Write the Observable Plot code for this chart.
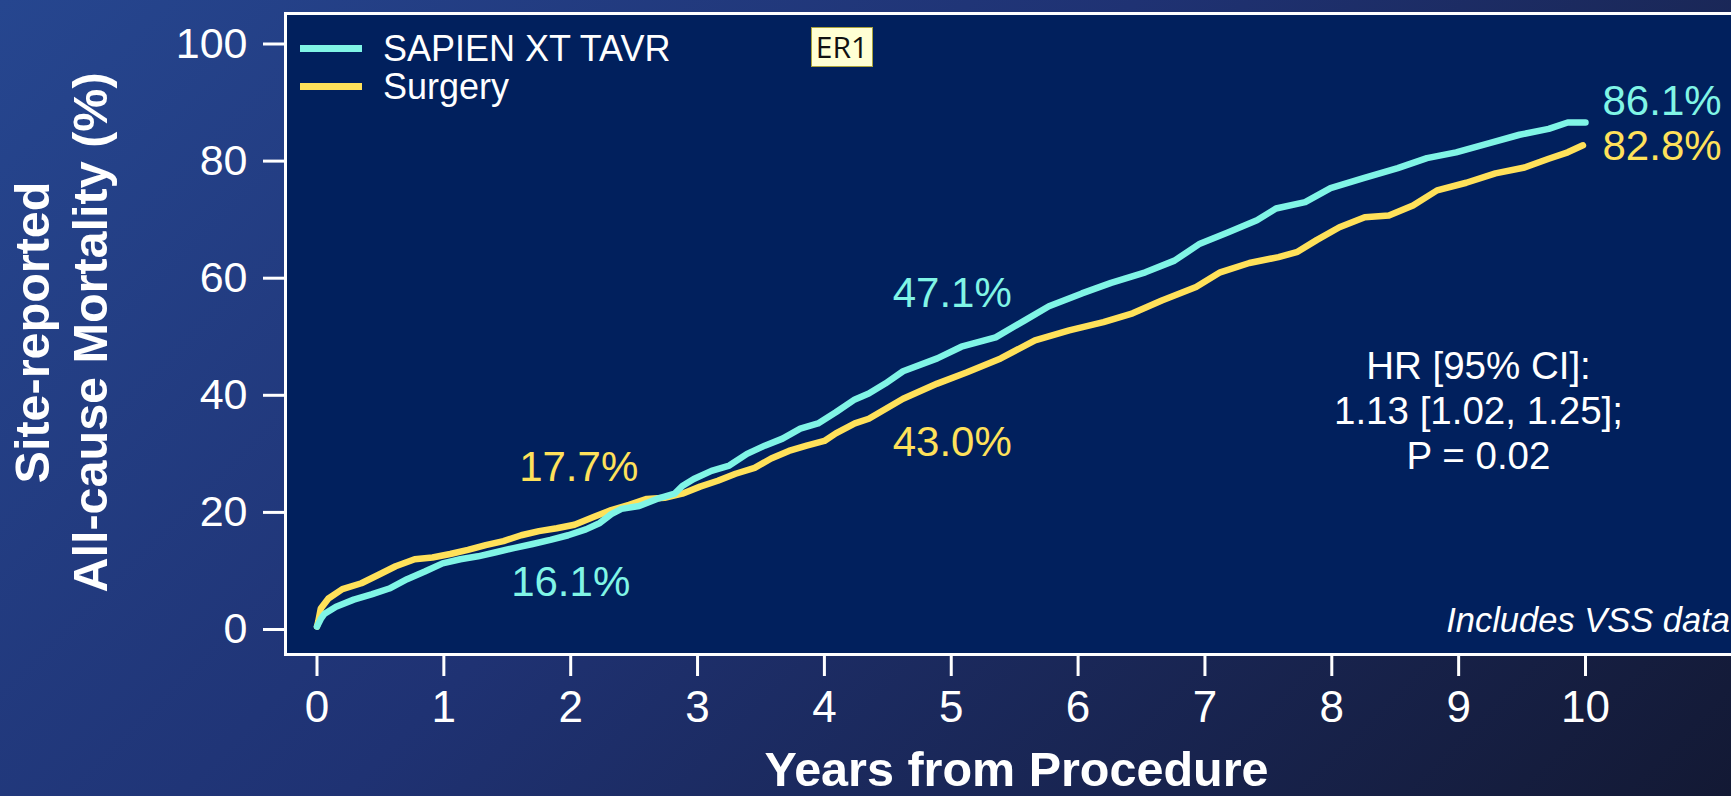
<!DOCTYPE html>
<html>
<head>
<meta charset="utf-8">
<script src="https://cdn.jsdelivr.net/npm/d3@7"></script>
<script src="https://cdn.jsdelivr.net/npm/@observablehq/plot@0.6"></script>
<style>
  html, body { margin: 0; padding: 0; overflow: hidden; }
  body {
    width: 1731px; height: 796px;
    background: linear-gradient(135deg, #26468f 0%, #1f3273 45%, #131934 100%);
    font-family: "Liberation Sans", Arial, sans-serif;
  }
  #wrap { position: relative; width: 1731px; height: 796px; }
  #wrap svg { position: absolute; left: 0; top: 0; }
  .sw { position: absolute; left: 300px; width: 62px; height: 7px; }
  .lt { position: absolute; left: 383px; font-size: 36px; line-height: 36px; color: #fff; white-space: nowrap; }
  #er1 {
    position: absolute; left: 811px; top: 27px; width: 60px; height: 38px;
    background: #ffffd4; border: 1.5px solid #a9a23c;
    font-family: "Open Sans", "Noto Sans", sans-serif; font-size: 30px; line-height: 38px;
    color: #111; text-align: center;
  }
</style>
</head>
<body>
<div id="wrap"></div>
<script>
// ---- data ----
const seriesNames = ["SAPIEN XT TAVR", "Surgery"];
const seriesColors = ["#80F5E6", "#FFE15A"];

const tavrT = [0, 0.03, 0.06, 0.15, 0.29, 0.43, 0.57, 0.71, 0.85, 0.99, 1.13, 1.27, 1.41, 1.55, 1.70, 1.84, 1.98, 2.12, 2.23, 2.32, 2.40, 2.54, 2.68, 2.82, 2.88, 2.97, 3.11, 3.25, 3.39, 3.53, 3.67, 3.81, 3.95, 4.09, 4.24, 4.35, 4.48, 4.62, 4.89, 5.08, 5.35, 5.58, 5.77, 6.03, 6.26, 6.53, 6.76, 6.96, 7.18, 7.41, 7.56, 7.79, 7.99, 8.25, 8.52, 8.75, 8.98, 9.25, 9.48, 9.71, 9.86, 10.0];
const tavrV = [0.5, 1.8, 2.7, 3.9, 5.1, 6.0, 7.0, 8.6, 9.9, 11.3, 12.0, 12.5, 13.2, 13.9, 14.6, 15.3, 16.1, 17.1, 18.2, 19.7, 20.6, 21.1, 22.3, 23.2, 24.5, 25.7, 27.1, 28.0, 30.0, 31.4, 32.6, 34.3, 35.2, 37.1, 39.3, 40.3, 42.0, 44.1, 46.3, 48.3, 49.9, 52.8, 55.2, 57.4, 59.2, 61.0, 63.0, 65.9, 67.8, 69.9, 71.9, 73.0, 75.4, 77.1, 78.8, 80.5, 81.5, 83.1, 84.5, 85.5, 86.6, 86.6];

const surgT = [0, 0.01, 0.03, 0.09, 0.20, 0.35, 0.49, 0.62, 0.77, 0.91, 1.05, 1.19, 1.33, 1.47, 1.61, 1.75, 1.89, 2.03, 2.18, 2.32, 2.46, 2.60, 2.74, 2.88, 3.02, 3.16, 3.30, 3.45, 3.58, 3.72, 3.86, 4.00, 4.09, 4.24, 4.35, 4.62, 4.89, 5.12, 5.39, 5.66, 5.93, 6.20, 6.43, 6.66, 6.93, 7.12, 7.35, 7.58, 7.73, 7.88, 8.06, 8.26, 8.45, 8.64, 8.83, 9.06, 9.29, 9.52, 9.71, 9.86, 9.98];
const surgV = [0.5, 1.4, 3.6, 5.3, 6.9, 7.9, 9.4, 10.8, 12.0, 12.3, 12.9, 13.6, 14.4, 15.1, 16.1, 16.8, 17.3, 17.9, 19.2, 20.4, 21.3, 22.3, 22.5, 23.2, 24.4, 25.4, 26.6, 27.6, 29.2, 30.5, 31.4, 32.2, 33.5, 35.2, 36.0, 39.4, 42.0, 43.9, 46.3, 49.4, 51.1, 52.5, 54.0, 56.2, 58.5, 61.0, 62.6, 63.6, 64.5, 66.5, 68.7, 70.4, 70.7, 72.4, 75.0, 76.3, 77.9, 78.9, 80.4, 81.5, 82.7];

const labelT = [2, 5, 10];
const tavrLabelV = [16.1, 47.1, 86.1];
const surgLabelV = [17.7, 43.0, 82.8];

const xTicks = [0, 1, 2, 3, 4, 5, 6, 7, 8, 9, 10];
const yTicks = [0, 20, 40, 60, 80, 100];

const xTitle = "Years from Procedure";
const yTitleLines = ["Site-reported", "All-cause Mortality (%)"];
const hrLines = ["HR [95% CI]:", "1.13 [1.02, 1.25];", "P = 0.02"];
const noteText = "Includes VSS data";

// ---- build ----
const tavr = tavrT.map((t, i) => ({t, v: tavrV[i]}));
const surg = surgT.map((t, i) => ({t, v: surgV[i]}));
const pct = (v) => v.toFixed(1) + "%";

// label placement offsets (style only): [dx, dy, anchor]
const tavrLabelPos = [[0, 47, "middle"], [1, -60, "middle"], [17, -23.5, "start"]];
const surgLabelPos = [[8, -58, "middle"], [1, 64.5, "middle"], [17, 2, "start"]];

const labelMarks = [];
labelT.forEach((t, i) => {
  const [dx1, dy1, a1] = tavrLabelPos[i];
  labelMarks.push(Plot.text([{t, v: tavrLabelV[i]}], {
    x: "t", y: "v", text: d => pct(d.v), fill: seriesColors[0],
    fontSize: 42, dx: dx1, dy: dy1, textAnchor: a1, lineAnchor: "middle"
  }));
  const [dx2, dy2, a2] = surgLabelPos[i];
  labelMarks.push(Plot.text([{t, v: surgLabelV[i]}], {
    x: "t", y: "v", text: d => pct(d.v), fill: seriesColors[1],
    fontSize: 42, dx: dx2, dy: dy2, textAnchor: a2, lineAnchor: "middle"
  }));
});

const chart = Plot.plot({
  width: 1731,
  height: 796,
  marginLeft: 285,
  marginTop: 13,
  marginBottom: 142,
  marginRight: -4,
  style: {
    background: "transparent",
    color: "white",
    fontFamily: "'Liberation Sans', Arial, sans-serif",
    overflow: "visible"
  },
  x: {domain: [0, 10], range: [316.5, 1585]},
  y: {domain: [0, 100], range: [629, 43.5]},
  marks: [
    Plot.frame({fill: "#01205d", stroke: "white", strokeWidth: 3}),
    Plot.axisY({ticks: yTicks, tickSize: 22, tickPadding: 16, fontSize: 43, strokeWidth: 3, label: null}),
    Plot.axisX({ticks: xTicks, tickSize: 22, tickPadding: 14, fontSize: 44, strokeWidth: 3, label: null}),
    Plot.line(surg, {x: "t", y: "v", stroke: seriesColors[1], strokeWidth: 6.5, curve: "linear"}),
    Plot.line(tavr, {x: "t", y: "v", stroke: seriesColors[0], strokeWidth: 6.5, curve: "linear"}),
    ...labelMarks,
    Plot.text([hrLines.join("\n")], {
      frameAnchor: "top-left", dx: 1193, dy: 396, text: d => d,
      fontSize: 38.5, lineHeight: 1.17, textAnchor: "middle", lineAnchor: "middle", fill: "white"
    }),
    Plot.text([noteText], {
      frameAnchor: "bottom-right", dx: -5.5, dy: -22.5, text: d => d,
      fontSize: 34.5, fontStyle: "italic", textAnchor: "end", lineAnchor: "bottom", fill: "white"
    }),
    Plot.text([xTitle], {
      frameAnchor: "bottom", dx: 6, dy: 131.5, text: d => d,
      fontSize: 48.5, fontWeight: "bold", textAnchor: "middle", lineAnchor: "bottom", fill: "white"
    }),
    Plot.text([yTitleLines.join("\n")], {
      frameAnchor: "left", dx: -226, dy: -1.5, text: d => d, rotate: -90,
      fontSize: 48.5, fontWeight: "bold", lineHeight: 1.2, textAnchor: "middle", lineAnchor: "middle", fill: "white"
    })
  ]
});

const wrap = document.getElementById("wrap");
wrap.appendChild(chart);

// legend (HTML overlay)
const legendTops = [[44.5, 30.5], [82.8, 68.5]];
seriesNames.forEach((name, i) => {
  const sw = document.createElement("div");
  sw.className = "sw";
  sw.style.top = legendTops[i][0] + "px";
  sw.style.background = seriesColors[i];
  wrap.appendChild(sw);
  const lt = document.createElement("div");
  lt.className = "lt";
  lt.style.top = legendTops[i][1] + "px";
  lt.textContent = name;
  wrap.appendChild(lt);
});

const er = document.createElement("div");
er.id = "er1";
er.textContent = "ER1";
wrap.appendChild(er);
</script>
</body>
</html>
